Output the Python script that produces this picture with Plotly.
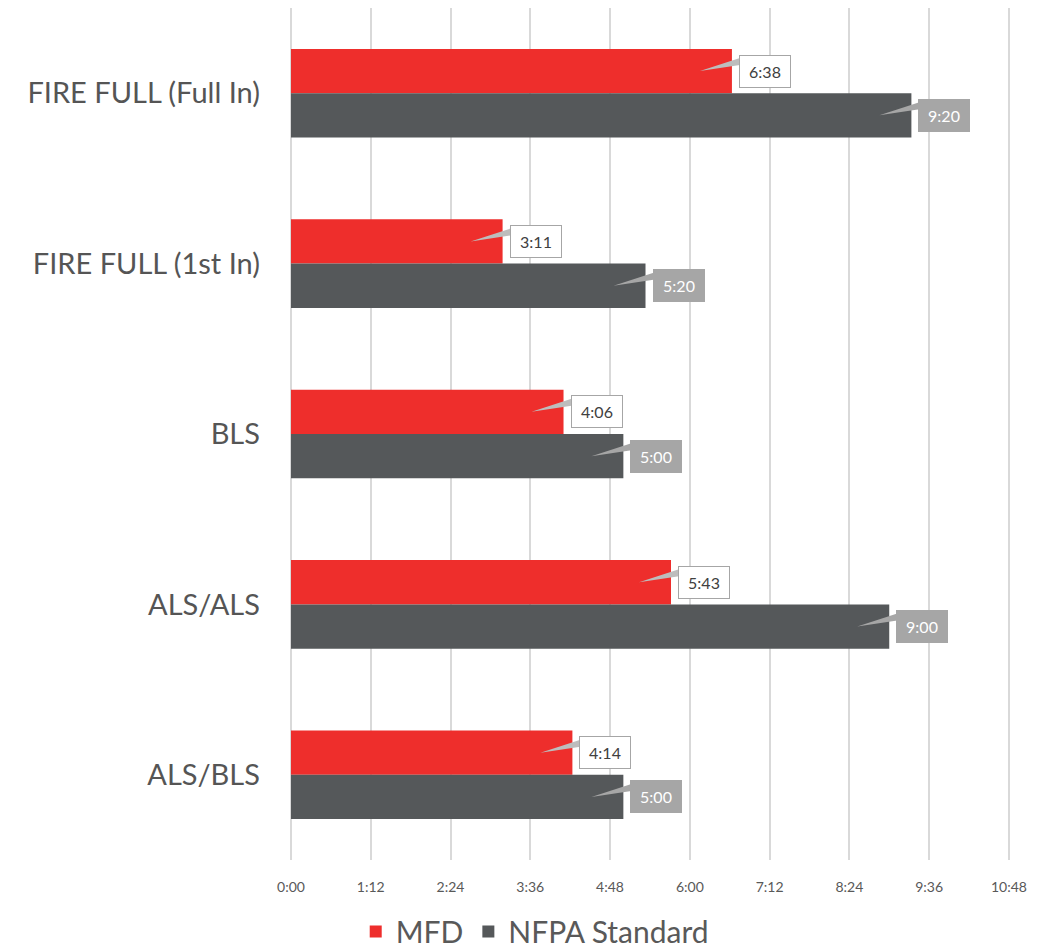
import plotly.graph_objects as go

categories = ["FIRE FULL (Full In)", "FIRE FULL (1st In)", "BLS", "ALS/ALS", "ALS/BLS"]
mfd_seconds = [398, 191, 246, 343, 254]      # 6:38, 3:11, 4:06, 5:43, 4:14
nfpa_seconds = [560, 320, 300, 540, 300]     # 9:20, 5:20, 5:00, 9:00, 5:00
tick_values = [0, 72, 144, 216, 288, 360, 432, 504, 576, 648]
tick_labels = ["0:00", "1:12", "2:24", "3:36", "4:48", "6:00", "7:12", "8:24", "9:36", "10:48"]

RED = "#EE2E2C"
GRAY = "#55585A"
LABEL_GRAY = "#A6A6A6"
FONT = "Lato, 'Open Sans', sans-serif"
BARGAP = 0.48


def fmt(s):
    return f"{s // 60}:{s % 60:02d}"


fig = go.Figure()
fig.add_trace(go.Bar(y=categories, x=mfd_seconds, orientation="h", name="MFD",
                     marker=dict(color=RED, line=dict(width=0)), hoverinfo="skip"))
fig.add_trace(go.Bar(y=categories, x=nfpa_seconds, orientation="h", name="NFPA Standard",
                     marker=dict(color=GRAY, line=dict(width=0)), hoverinfo="skip"))

w = (1 - BARGAP) / 2
shapes = []
annotations = []
for i, cat in enumerate(categories):
    for vals, off, fill, txtcol, wedge in (
        (mfd_seconds, -w / 2, "white", "#404040", "#BDBDBD"),
        (nfpa_seconds, w / 2, LABEL_GRAY, "white", LABEL_GRAY),
    ):
        v = vals[i]
        ypos = i + off
        shapes.append(dict(
            type="path", xref="x", yref="y", xsizemode="pixel", ysizemode="pixel",
            xanchor=v, yanchor=ypos, path="M -32,0 L 8,13 L 8,6 Z",
            fillcolor=wedge, line=dict(width=0), layer="above"))
        annotations.append(dict(
            x=v, y=ypos, xref="x", yref="y", text=fmt(v), showarrow=False,
            xanchor="left", yanchor="middle", xshift=7,
            width=46, height=27, borderpad=2, borderwidth=1,
            bordercolor=LABEL_GRAY, bgcolor=fill,
            font=dict(family=FONT, size=16, color=txtcol)))

fig.update_layout(
    width=1043, height=942,
    margin=dict(l=283, r=41, t=0, b=90, autoexpand=False),
    paper_bgcolor="white", plot_bgcolor="white",
    barmode="group", bargap=BARGAP, bargroupgap=0,
    font=dict(family=FONT, color="#595959"),
    xaxis=dict(range=[0, 649], tickvals=tick_values, ticktext=tick_labels,
               showgrid=True, gridcolor="#D9D9D9", gridwidth=2,
               zeroline=True, zerolinecolor="#D9D9D9", zerolinewidth=2,
               showline=False, ticks="", tickfont=dict(size=14, color="#595959"),
               ticklabelstandoff=17, fixedrange=True, automargin=False),
    yaxis=dict(categoryorder="array", categoryarray=categories, autorange="reversed",
               showgrid=False, showline=False, ticks="", ticklabelstandoff=30,
               tickfont=dict(size=29, color="#555555"), fixedrange=True,
               automargin=False),
    legend=dict(orientation="h", xref="container", yref="paper",
                x=0.505, xanchor="center", y=-0.084, yanchor="middle",
                font=dict(size=30, color="#595959"), traceorder="normal",
                itemwidth=30),
    shapes=shapes, annotations=annotations,
    showlegend=True,
)

fig.write_html("out.html")
